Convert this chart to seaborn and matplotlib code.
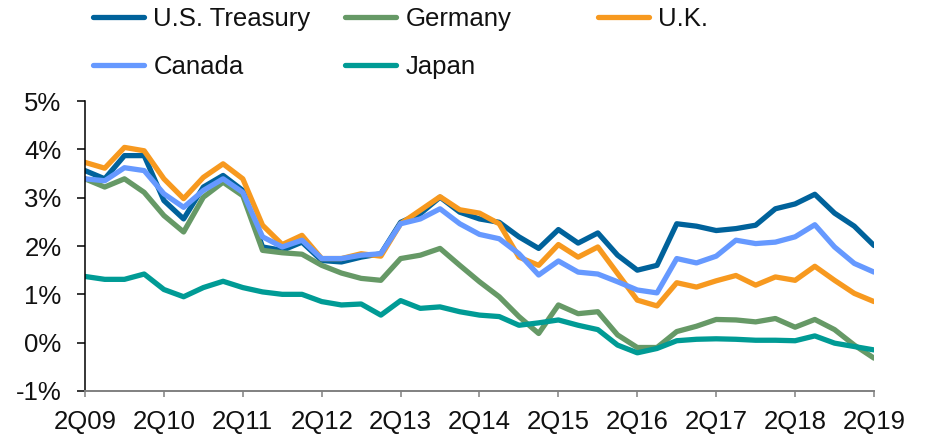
import pandas as pd
import matplotlib.pyplot as plt
import seaborn as sns
from matplotlib.lines import Line2D

# Quarterly 10-year yields (%), 2Q09 .. 2Q19
quarters = [f"{q}Q{y:02d}" for y in range(9, 20) for q in range(1, 5)][1:42]

us_treasury = [3.56, 3.39, 3.87, 3.87, 2.94, 2.56, 3.22, 3.46, 3.15, 1.98,
               1.91, 2.08, 1.70, 1.67, 1.77, 1.84, 2.49, 2.67, 3.01, 2.70,
               2.56, 2.49, 2.19, 1.95, 2.34, 2.06, 2.27, 1.81, 1.50, 1.60,
               2.46, 2.41, 2.32, 2.36, 2.43, 2.77, 2.87, 3.07, 2.68, 2.41, 2.01]
germany = [3.39, 3.22, 3.39, 3.11, 2.63, 2.29, 3.01, 3.32, 3.04, 1.91,
           1.86, 1.83, 1.60, 1.44, 1.33, 1.29, 1.74, 1.81, 1.95, 1.60,
           1.26, 0.95, 0.54, 0.19, 0.78, 0.60, 0.64, 0.16, -0.10, -0.10,
           0.23, 0.34, 0.48, 0.47, 0.43, 0.50, 0.32, 0.48, 0.27, -0.05, -0.32]
uk = [3.73, 3.61, 4.04, 3.97, 3.39, 2.98, 3.42, 3.70, 3.39, 2.43,
      2.03, 2.22, 1.74, 1.74, 1.84, 1.79, 2.46, 2.74, 3.02, 2.75,
      2.68, 2.46, 1.77, 1.60, 2.03, 1.77, 1.98, 1.43, 0.88, 0.76,
      1.24, 1.15, 1.28, 1.39, 1.19, 1.36, 1.29, 1.58, 1.29, 1.02, 0.85]
canada = [3.39, 3.35, 3.62, 3.56, 3.08, 2.80, 3.15, 3.39, 3.11, 2.19,
          1.98, 2.12, 1.74, 1.74, 1.81, 1.84, 2.46, 2.56, 2.77, 2.46,
          2.24, 2.15, 1.84, 1.40, 1.69, 1.46, 1.42, 1.26, 1.09, 1.03,
          1.74, 1.65, 1.79, 2.12, 2.05, 2.08, 2.19, 2.44, 1.98, 1.64, 1.46]
japan = [1.37, 1.31, 1.31, 1.42, 1.10, 0.95, 1.14, 1.27, 1.14, 1.05,
         1.00, 1.00, 0.85, 0.78, 0.80, 0.57, 0.87, 0.71, 0.74, 0.64,
         0.57, 0.54, 0.36, 0.41, 0.47, 0.36, 0.27, -0.05, -0.21, -0.12,
         0.04, 0.07, 0.08, 0.07, 0.05, 0.05, 0.04, 0.14, -0.01, -0.08, -0.15]

series_names = ["U.S. Treasury", "Germany", "U.K.", "Canada", "Japan"]
colors = ["#00629b", "#669966", "#f7991f", "#6699ff", "#009b95"]
x_tick_labels = quarters[::4]
y_ticks = [-1, 0, 1, 2, 3, 4, 5]
y_tick_labels = ["-1%", "0%", "1%", "2%", "3%", "4%", "5%"]

# long-form table for seaborn
df = pd.concat([
    pd.DataFrame({"quarter": quarters, "pos": range(len(quarters)),
                  "series": name, "value": vals})
    for name, vals in zip(series_names, [us_treasury, germany, uk, canada, japan])
])

sns.set_style("white")
plt.rcParams["font.family"] = ["Liberation Sans", "DejaVu Sans"]

fig = plt.figure(figsize=(9.28, 4.37), dpi=100)
ax = fig.add_axes([85 / 928, 1 - 391 / 437, (874 - 85) / 928, (391 - 101) / 437])

sns.lineplot(data=df, x="pos", y="value", hue="series", hue_order=series_names,
             palette=colors, linewidth=3.8, legend=False, ax=ax)

ax.set_xlim(0, len(quarters) - 1)
ax.set_ylim(-1, 5)
ax.set_xticks(range(0, len(quarters), 4))
ax.set_xticklabels(x_tick_labels)
ax.set_yticks(y_ticks)
ax.set_yticklabels(y_tick_labels)
ax.set_xlabel("")
ax.set_ylabel("")

for s in ["top", "right"]:
    ax.spines[s].set_visible(False)
ax.spines["left"].set_color("black")
ax.spines["left"].set_linewidth(1.1)
ax.spines["bottom"].set_color("#808080")
ax.spines["bottom"].set_linewidth(1.4)

ax.tick_params(axis="y", direction="out", length=5.8, width=1.1, color="black",
               pad=11, labelsize=18.5, labelcolor="#111111", left=True)
ax.tick_params(axis="x", direction="out", length=4.5, width=1.1, color="#808080",
               pad=9, labelsize=18.5, labelcolor="#111111", bottom=True)

# legend in three column groups, like the original
handles = {n: Line2D([0], [0], color=c, lw=3.8, solid_capstyle="round")
           for n, c in zip(series_names, colors)}
groups = [(93, ["U.S. Treasury", "Canada"]), (345, ["Germany", "Japan"]), (598, ["U.K."])]
for x0, names in groups:
    leg = fig.legend([handles[n] for n in names], names, loc="upper left",
                     bbox_to_anchor=(x0 / 928, 1 - 7 / 437), frameon=False,
                     fontsize=18.5, handlelength=2.0, handletextpad=0.35,
                     labelspacing=0.93, borderpad=0, borderaxespad=0)
    for t in leg.get_texts():
        t.set_color("#111111")

fig.savefig("out.png", dpi=100)
